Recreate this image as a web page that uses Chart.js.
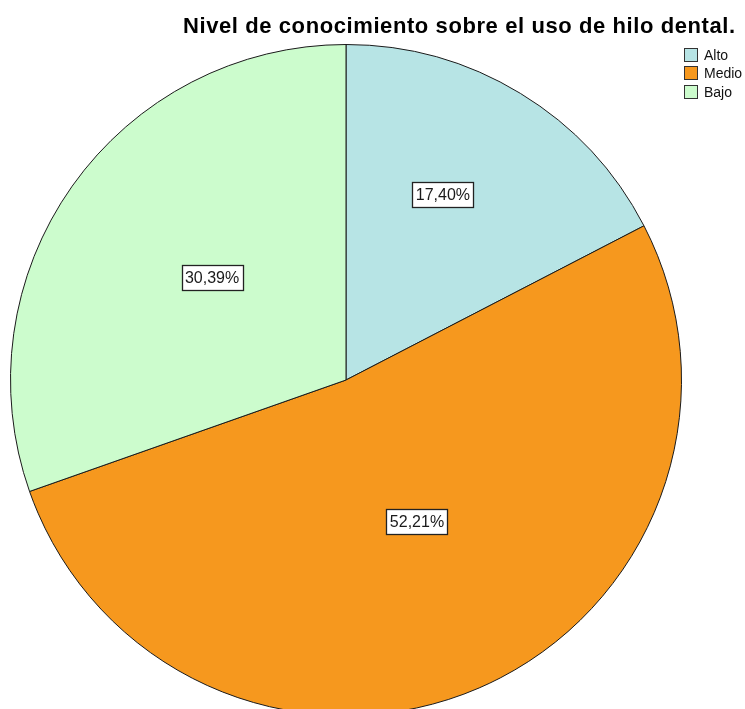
<!DOCTYPE html>
<html>
<head>
<meta charset="utf-8">
<script src="https://cdn.jsdelivr.net/npm/chart.js@4/dist/chart.umd.min.js"></script>
<style>
  html, body { margin: 0; padding: 0; background: #fff; overflow: hidden; }
  #wrap { width: 745px; height: 709px; overflow: hidden; }
</style>
</head>
<body>
<div id="wrap"><canvas id="grafico" width="745" height="725"></canvas></div>
<script>
const categorias = ["Alto", "Medio", "Bajo"];
const porcentajes = [17.40, 52.21, 30.39];
const colores = ["#b7e4e5", "#f6981e", "#ccfccd"];
const titulo = "Nivel de conocimiento sobre el uso de hilo dental.";

// etiqueta con recuadro blanco dentro de cada porción
const etiquetas = {
  id: "etiquetas",
  afterDatasetsDraw(chart) {
    const ctx = chart.ctx;
    const meta = chart.getDatasetMeta(0);
    const fracAng = [0.44, 0.483, 0.52];
    const fracRad = [0.624, 0.473, 0.503];
    ctx.save();
    ctx.font = "16px Arial, 'Liberation Sans', sans-serif";
    ctx.textAlign = "center";
    ctx.textBaseline = "middle";
    meta.data.forEach((arc, i) => {
      const p = arc.getProps(["x", "y", "startAngle", "endAngle", "outerRadius"], true);
      const a = p.startAngle + (p.endAngle - p.startAngle) * fracAng[i];
      const r = p.outerRadius * fracRad[i];
      const x = p.x + Math.cos(a) * r;
      const y = p.y + Math.sin(a) * r;
      const txt = porcentajes[i].toFixed(2).replace(".", ",") + "%";
      const w = Math.round(ctx.measureText(txt).width + 7);
      const h = 25;
      const bx = Math.round(x - w / 2) + 0.5;
      const by = Math.round(y - h / 2) + 0.5;
      ctx.fillStyle = "#fff";
      ctx.fillRect(bx, by, w, h);
      ctx.strokeStyle = "#222";
      ctx.lineWidth = 1.3;
      ctx.strokeRect(bx, by, w, h);
      ctx.fillStyle = "#1a1a1a";
      ctx.fillText(txt, x, y + 1);
    });
    ctx.restore();
  }
};

// título y leyenda arriba a la derecha
const encabezado = {
  id: "encabezado",
  afterDraw(chart) {
    const ctx = chart.ctx;
    ctx.save();
    ctx.fillStyle = "#000";
    ctx.font = "bold 22px Arial, 'Liberation Sans', sans-serif";
    ctx.textAlign = "left";
    ctx.textBaseline = "alphabetic";
    const ancho = ctx.measureText(titulo).width;
    const extra = Math.max(0, (552 - ancho) / (titulo.length - 1));
    ctx.letterSpacing = extra.toFixed(2) + "px";
    ctx.fillText(titulo, 183, 33);
    ctx.letterSpacing = "0px";

    ctx.font = "14px Arial, 'Liberation Sans', sans-serif";
    ctx.textBaseline = "middle";
    chart.data.labels.forEach((lab, i) => {
      const y = 48 + Math.round(i * 18.4);
      ctx.fillStyle = colores[i];
      ctx.fillRect(684.5, y + 0.5, 13, 13);
      ctx.strokeStyle = "#333";
      ctx.lineWidth = 1;
      ctx.strokeRect(684.5, y + 0.5, 13, 13);
      ctx.fillStyle = "#111";
      ctx.fillText(lab, 704, y + 8);
    });
    ctx.restore();
  }
};

new Chart(document.getElementById("grafico").getContext("2d"), {
  type: "pie",
  data: {
    labels: categorias,
    datasets: [{
      data: porcentajes,
      backgroundColor: colores,
      borderColor: "#1a1a1a",
      borderWidth: 1
    }]
  },
  options: {
    responsive: false,
    animation: false,
    layout: { padding: { left: 10, top: 44, right: 63, bottom: 9 } },
    plugins: {
      legend: { display: false },
      title: { display: false },
      tooltip: { enabled: false }
    }
  },
  plugins: [etiquetas, encabezado]
});
</script>
</body>
</html>
